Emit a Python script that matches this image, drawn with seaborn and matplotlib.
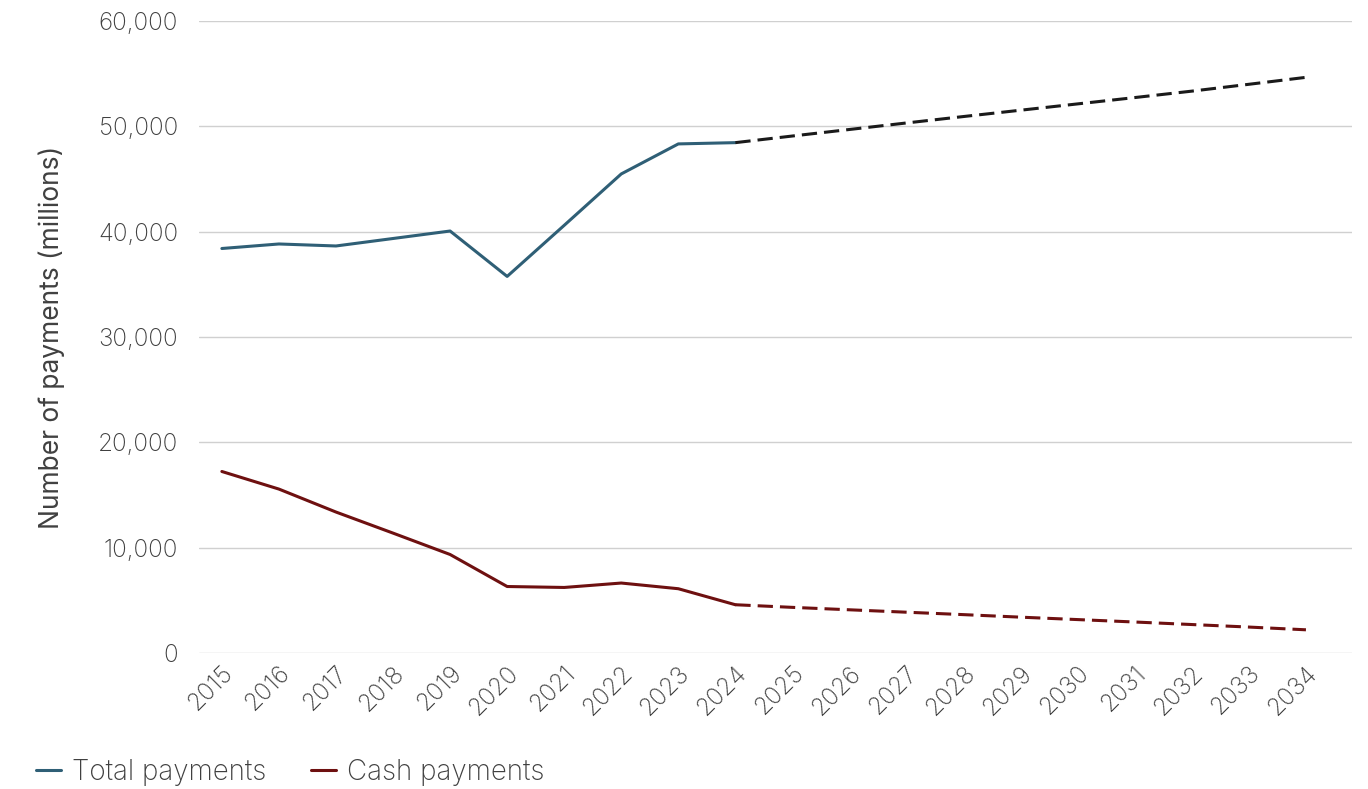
import pandas as pd
import seaborn as sns
import matplotlib.pyplot as plt
from matplotlib.ticker import FuncFormatter

# actual data 2015-2024, forecast 2024-2034
years = list(range(2015, 2025))
total_payments = [38400, 38830, 38640, 39350, 40060, 35750, 40600, 45480, 48330, 48450]
cash_payments = [17230, 15560, 13380, 11380, 9350, 6310, 6220, 6640, 6100, 4580]

forecast_years = list(range(2024, 2035))
total_forecast = [48450, 49080, 49700, 50320, 50930, 51530, 52130, 52730, 53340, 53990, 54650]
cash_forecast = [4580, 4330, 4100, 3870, 3640, 3400, 3170, 2940, 2700, 2460, 2200]

total_color = "#2f5f76"
cash_color = "#6e1010"
text_color = "#404040"

sns.set_theme(style="white")
plt.rcParams['font.family'] = ['Inter', 'DejaVu Sans']
plt.rcParams['font.weight'] = 'light'

fig = plt.figure(figsize=(13.68, 7.89), dpi=100)
ax = fig.add_axes([0.1455, 0.1724, 0.8425, 0.801])

hist = pd.DataFrame({"year": years, "Total payments": total_payments, "Cash payments": cash_payments})
fc = pd.DataFrame({"year": forecast_years, "total": total_forecast, "cash": cash_forecast})

sns.lineplot(data=hist, x="year", y="Total payments", color=total_color, linewidth=2.2, ax=ax, label="Total payments")
sns.lineplot(data=hist, x="year", y="Cash payments", color=cash_color, linewidth=2.2, ax=ax, label="Cash payments")
sns.lineplot(data=fc, x="year", y="total", color="#1a1a1a", linewidth=2.2, linestyle=(0, (5, 2.3)), ax=ax)
sns.lineplot(data=fc, x="year", y="cash", color=cash_color, linewidth=2.2, linestyle=(0, (5, 2.3)), ax=ax)

ax.set_ylim(0, 60000)
ax.set_xlim(2014.6, 2034.8)
ax.set_yticks(range(0, 60001, 10000))
ax.yaxis.set_major_formatter(FuncFormatter(lambda v, p: f"{int(v):,}"))
ax.set_xticks(range(2015, 2035))
ax.set_xticklabels([str(y) for y in range(2015, 2035)], rotation=45, ha="right", rotation_mode="anchor")
ax.grid(axis="y", color="#d0d0d0", linewidth=1)
ax.set_axisbelow(True)
for s in ax.spines.values():
    s.set_visible(False)
ax.tick_params(axis="both", length=0, labelsize=17.5, labelcolor=text_color)
ax.tick_params(axis="y", pad=15)
ax.tick_params(axis="x", pad=6)
ax.set_xlabel("")
ax.set_ylabel("Number of payments (millions)", fontsize=19, color=text_color, labelpad=24)

ax.legend(loc="lower left", bbox_to_anchor=(-0.163, -0.25), ncol=2, frameon=False,
          fontsize=20, handlelength=0.9, handletextpad=0.4, columnspacing=1.6, labelcolor=text_color)

fig.savefig("out.png", dpi=100)
